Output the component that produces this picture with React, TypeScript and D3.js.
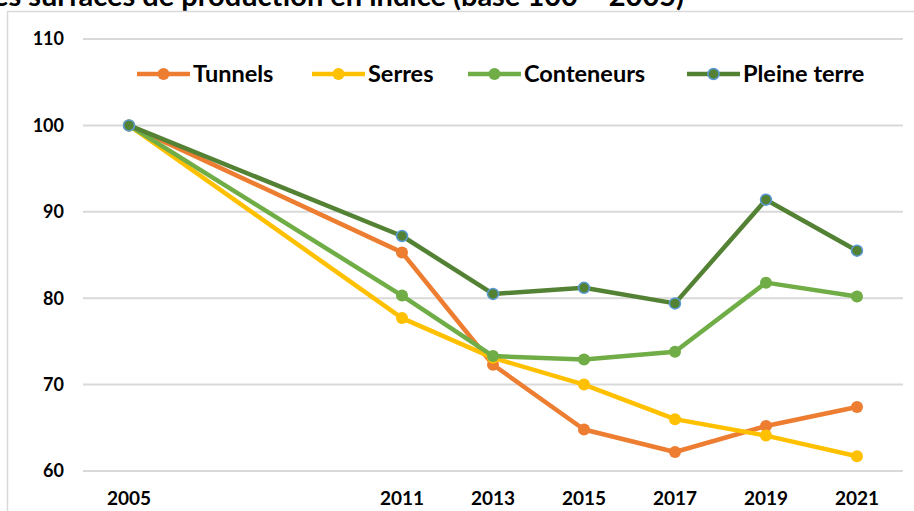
import { useEffect, useRef } from 'react';
import * as d3 from 'd3';

const years = [2005, 2011, 2013, 2015, 2017, 2019, 2021];
const yTicks = [60, 70, 80, 90, 100, 110];

const seriesNames = ['Tunnels', 'Serres', 'Conteneurs', 'Pleine terre'];
const tunnels = [100, 85.3, 72.3, 64.8, 62.2, 65.2, 67.4];
const serres = [100, 77.7, 73.1, 70.0, 66.0, 64.1, 61.7];
const conteneurs = [100, 80.3, 73.3, 72.9, 73.8, 81.8, 80.2];
const pleineTerre = [100, 87.2, 80.5, 81.2, 79.4, 91.4, 85.5];

const colors = ['#ED7D31', '#FFC000', '#70AD47', '#548235'];
const FONT = 'Lato, "Open Sans", sans-serif';

const App = () => {
  const svgRef = useRef<SVGSVGElement | null>(null);

  useEffect(() => {
    const W = 914;
    const H = 511;
    const svg = d3.select(svgRef.current).attr('width', W).attr('height', H);
    svg.selectAll('*').remove();

    // titre coupé en haut (comme dans la capture)
    svg
      .append('text')
      .attr('x', 684)
      .attr('y', 6)
      .attr('text-anchor', 'end')
      .style('font-family', FONT)
      .style('font-size', '29px')
      .style('font-weight', 'bold')
      .attr('fill', '#000')
      .text('Évolution des surfaces de production en indice (base 100 = 2005)');

    // cadre
    svg
      .append('path')
      .attr('d', `M7.5,${H + 2} V11.5 H${W + 2}`)
      .attr('fill', 'none')
      .attr('stroke', '#D9D9D9')
      .attr('stroke-width', 1.5);

    const x = d3.scaleLinear().domain([2005, 2021]).range([129, 857]);
    const y = d3.scaleLinear().domain([60, 110]).range([471, 39]);

    // grille
    svg
      .append('g')
      .selectAll('line')
      .data(yTicks)
      .join('line')
      .attr('x1', 83)
      .attr('x2', 903)
      .attr('y1', (d) => y(d))
      .attr('y2', (d) => y(d))
      .attr('stroke', '#D9D9D9')
      .attr('stroke-width', 2);

    svg
      .append('g')
      .selectAll('text')
      .data(yTicks)
      .join('text')
      .attr('x', 64)
      .attr('y', (d) => y(d))
      .attr('dy', '0.35em')
      .attr('text-anchor', 'end')
      .style('font-family', FONT)
      .style('font-size', '18px')
      .style('font-weight', 'bold')
      .attr('fill', '#000')
      .text((d) => d);

    svg
      .append('g')
      .selectAll('text')
      .data(years)
      .join('text')
      .attr('x', (d) => x(d))
      .attr('y', 498)
      .attr('dy', '0.35em')
      .attr('text-anchor', 'middle')
      .style('font-family', FONT)
      .style('font-size', '19px')
      .style('font-weight', 'bold')
      .attr('fill', '#000')
      .text((d) => d);

    const allSeries = [tunnels, serres, conteneurs, pleineTerre];
    const line = d3
      .line<number>()
      .x((_, i) => x(years[i]))
      .y((d) => y(d));

    allSeries.forEach((vals, k) => {
      const g = svg.append('g');
      g.append('path')
        .datum(vals)
        .attr('d', line)
        .attr('fill', 'none')
        .attr('stroke', colors[k])
        .attr('stroke-width', 4.5)
        .attr('stroke-linejoin', 'round');
      g.selectAll('circle')
        .data(vals)
        .join('circle')
        .attr('cx', (_, i) => x(years[i]))
        .attr('cy', (d) => y(d))
        .attr('r', k === 3 ? 5.5 : 6)
        .attr('fill', colors[k])
        .attr('stroke', k === 3 ? '#5B9BD5' : 'none')
        .attr('stroke-width', 1.5);
    });

    // légende
    const legendX = [137, 312, 468, 687];
    const ly = 74;
    seriesNames.forEach((name, k) => {
      const g = svg.append('g').attr('transform', `translate(${legendX[k]},${ly})`);
      g.append('line')
        .attr('x1', 0)
        .attr('x2', 53)
        .attr('y1', 0)
        .attr('y2', 0)
        .attr('stroke', colors[k])
        .attr('stroke-width', 4.5);
      g.append('circle')
        .attr('cx', 26.5)
        .attr('cy', 0)
        .attr('r', k === 3 ? 5.5 : 6)
        .attr('fill', colors[k])
        .attr('stroke', k === 3 ? '#5B9BD5' : 'none')
        .attr('stroke-width', 1.5);
      g.append('text')
        .attr('x', 56)
        .attr('y', 0)
        .attr('dy', '0.35em')
        .style('font-family', FONT)
        .style('font-size', '23.5px')
        .style('font-weight', 'bold')
        .attr('fill', '#000')
        .text(name);
    });
  }, []);

  return (
    <div style={{ position: 'fixed', left: 0, top: 0, width: 914, height: 511, background: '#fff' }}>
      <svg ref={svgRef} style={{ display: 'block' }} />
    </div>
  );
};

export default App;
